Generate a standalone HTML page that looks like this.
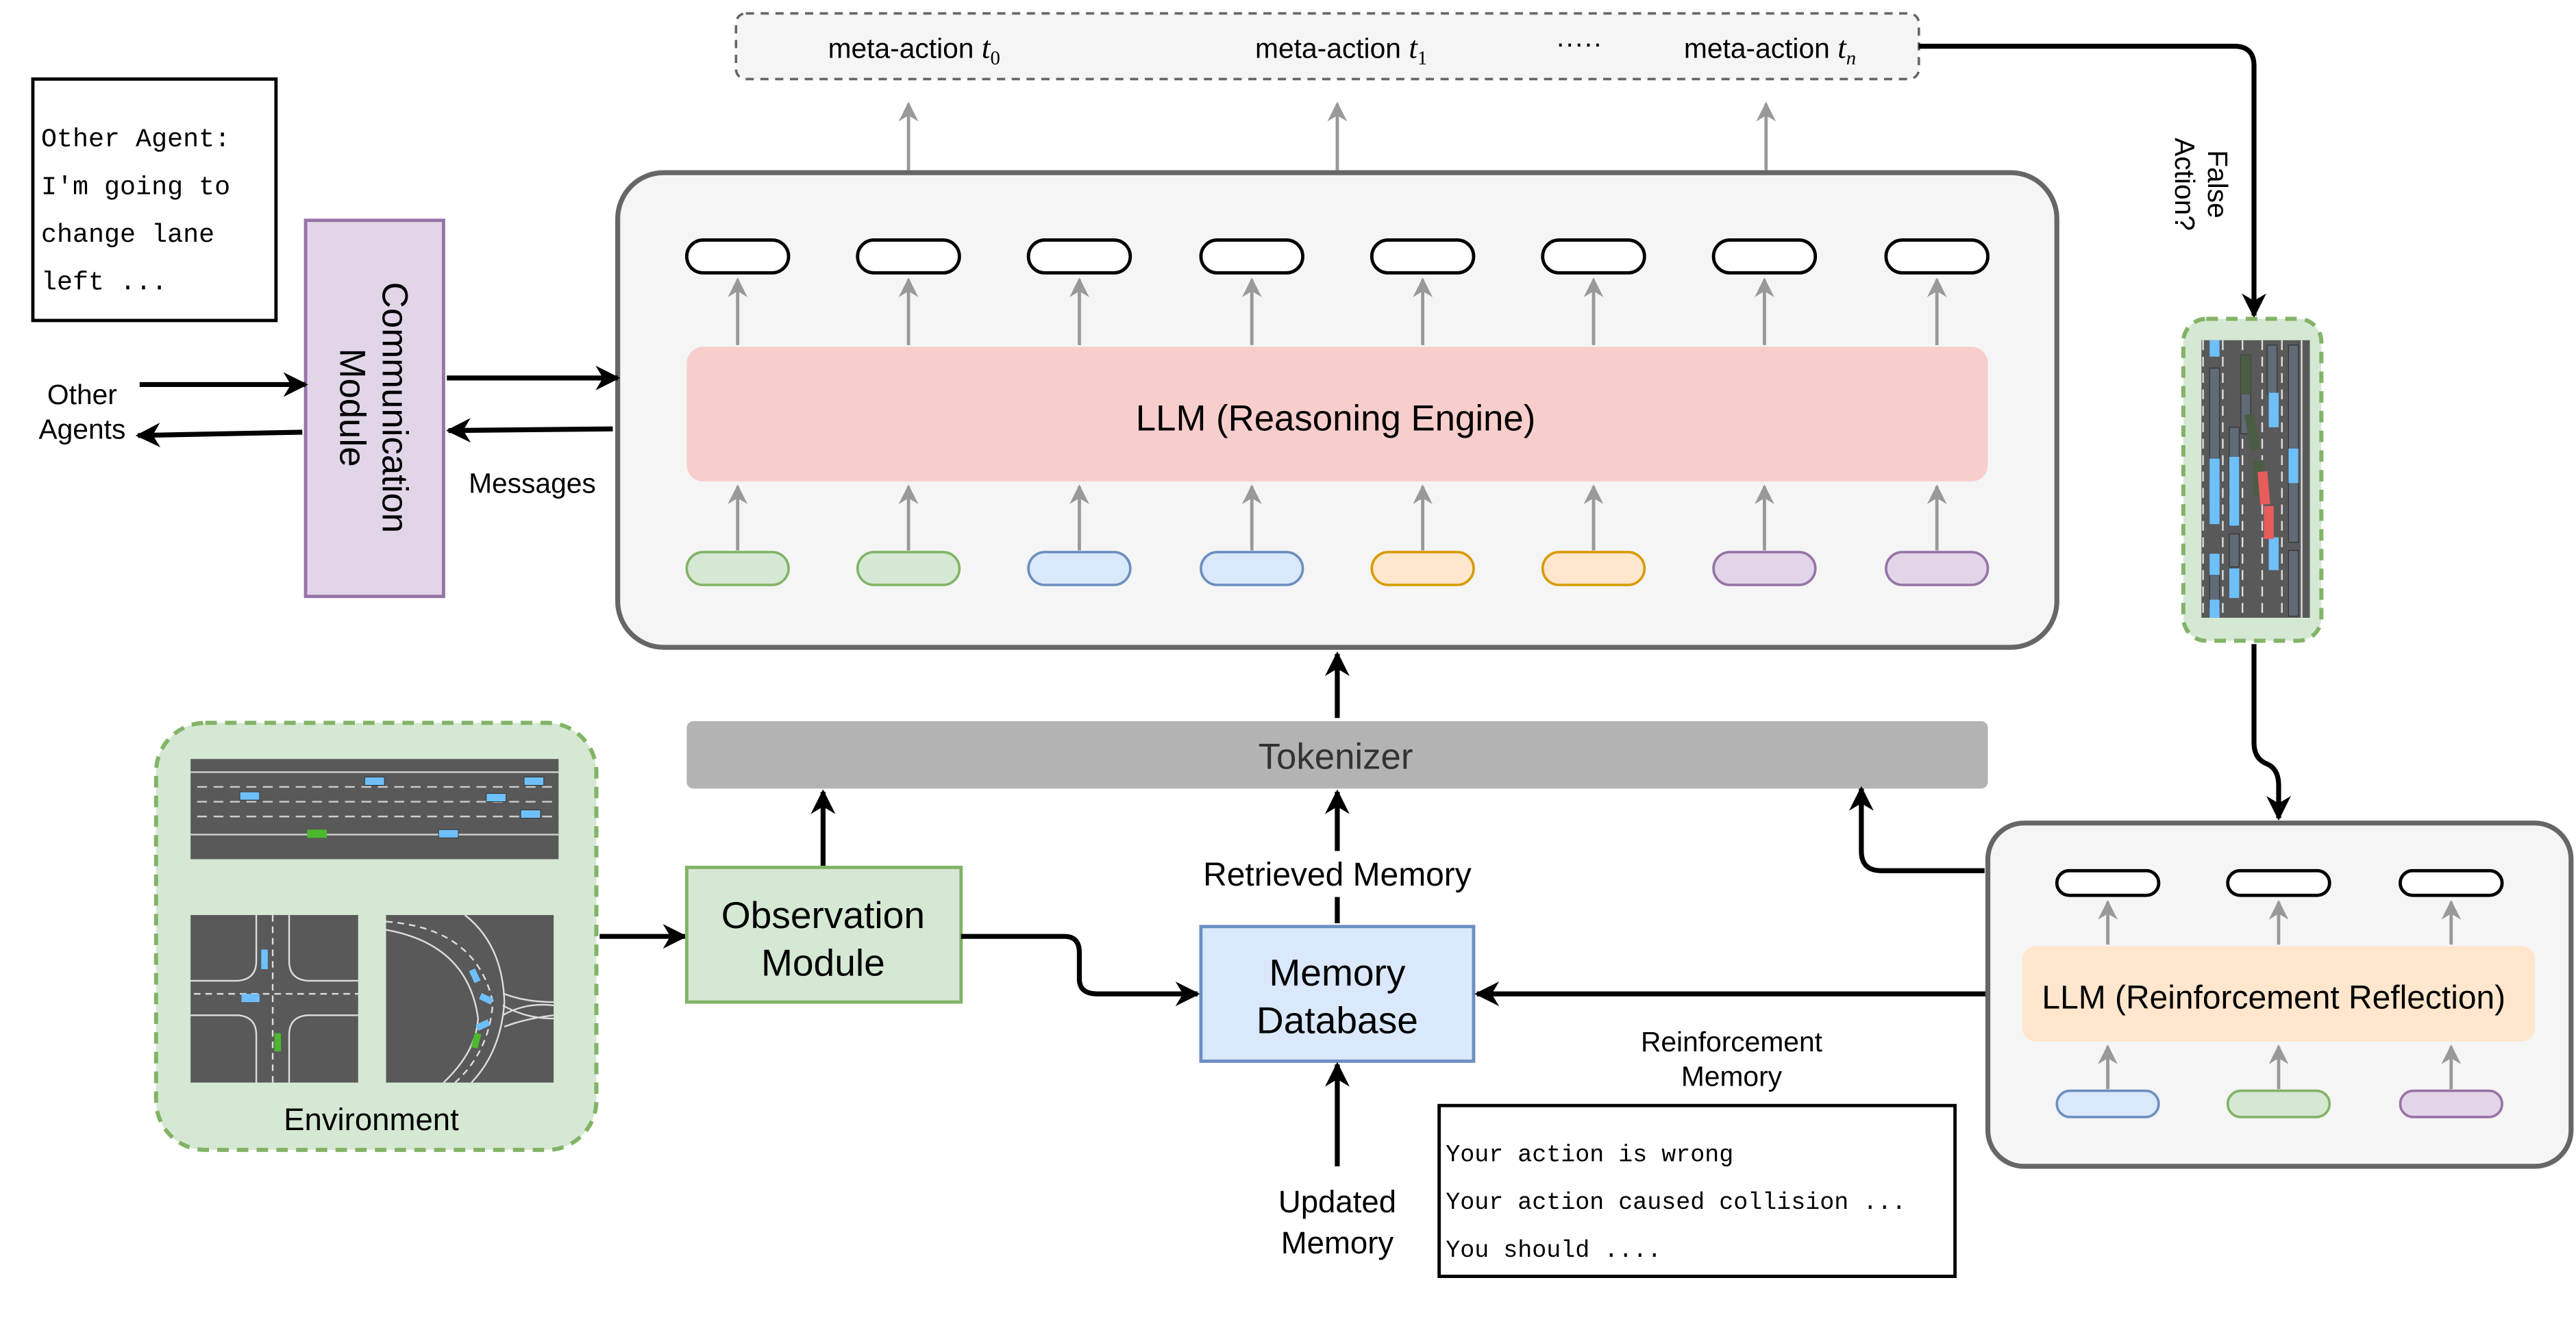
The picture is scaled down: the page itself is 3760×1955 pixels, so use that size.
<!DOCTYPE html>
<html><head><meta charset="utf-8"><style>html,body{margin:0;padding:0;background:#fff}svg{display:block}</style></head><body>
<svg width="3760" height="1955" viewBox="0 0 1568 815" xmlns="http://www.w3.org/2000/svg" font-family="Liberation Sans, Arial, sans-serif">
<defs>
<marker id="ab" viewBox="0 0 10 10" refX="9" refY="5" markerWidth="5" markerHeight="5" orient="auto" markerUnits="strokeWidth"><path d="M0,0 L10,5 L0,10 L3,5 Z" fill="#000"/></marker>
<marker id="ag" viewBox="0 0 10 10" refX="9" refY="5" markerWidth="6" markerHeight="6" orient="auto" markerUnits="strokeWidth"><path d="M0,0 L10,5 L0,10 L3,5 Z" fill="#999"/></marker>
</defs>
<rect width="1568" height="815" fill="#fff"/>

<rect x="448" y="8" width="720" height="40" rx="6" fill="#f5f5f5" stroke="#666" stroke-width="1.5" stroke-dasharray="5,4"/>
<g font-size="17" fill="#000">
<text x="504" y="35">meta-action <tspan font-family="Liberation Serif" font-style="italic" font-size="19">t</tspan><tspan font-family="Liberation Serif" font-size="12" dy="4">0</tspan></text>
<text x="764" y="35">meta-action <tspan font-family="Liberation Serif" font-style="italic" font-size="19">t</tspan><tspan font-family="Liberation Serif" font-size="12" dy="4">1</tspan></text>
<text x="947" y="32">·····</text>
<text x="1025" y="35">meta-action <tspan font-family="Liberation Serif" font-style="italic" font-size="19">t</tspan><tspan font-family="Liberation Serif" font-style="italic" font-size="12" dy="4">n</tspan></text>
</g>
<g stroke="#999" stroke-width="2" marker-end="url(#ag)">
<line x1="553" y1="104" x2="553" y2="63"/><line x1="814" y1="104" x2="814" y2="63"/><line x1="1075" y1="104" x2="1075" y2="63"/>
</g>

<rect x="376" y="105" width="876" height="289" rx="28" fill="#f5f5f5" stroke="#666" stroke-width="3"/>
<g stroke="#999" stroke-width="2" marker-end="url(#ag)">
<line x1="449" y1="210" x2="449" y2="170"/><line x1="553" y1="210" x2="553" y2="170"/><line x1="657" y1="210" x2="657" y2="170"/><line x1="762" y1="210" x2="762" y2="170"/><line x1="866" y1="210" x2="866" y2="170"/><line x1="970" y1="210" x2="970" y2="170"/><line x1="1074" y1="210" x2="1074" y2="170"/><line x1="1179" y1="210" x2="1179" y2="170"/>
<line x1="449" y1="335" x2="449" y2="296"/><line x1="553" y1="335" x2="553" y2="296"/><line x1="657" y1="335" x2="657" y2="296"/><line x1="762" y1="335" x2="762" y2="296"/><line x1="866" y1="335" x2="866" y2="296"/><line x1="970" y1="335" x2="970" y2="296"/><line x1="1074" y1="335" x2="1074" y2="296"/><line x1="1179" y1="335" x2="1179" y2="296"/>
</g>
<g fill="#fff" stroke="#000" stroke-width="2">
<rect x="418" y="146" width="62" height="20" rx="10"/><rect x="522" y="146" width="62" height="20" rx="10"/><rect x="626" y="146" width="62" height="20" rx="10"/><rect x="731" y="146" width="62" height="20" rx="10"/><rect x="835" y="146" width="62" height="20" rx="10"/><rect x="939" y="146" width="62" height="20" rx="10"/><rect x="1043" y="146" width="62" height="20" rx="10"/><rect x="1148" y="146" width="62" height="20" rx="10"/>
</g>
<rect x="418" y="211" width="792" height="82" rx="10" fill="#f8cecc"/>
<text x="813" y="262" font-size="22" text-anchor="middle">LLM (Reasoning Engine)</text>
<g stroke-width="1.5">
<rect x="418" y="336" width="62" height="20" rx="10" fill="#d5e8d4" stroke="#82b366"/><rect x="522" y="336" width="62" height="20" rx="10" fill="#d5e8d4" stroke="#82b366"/>
<rect x="626" y="336" width="62" height="20" rx="10" fill="#dae8fc" stroke="#6c8ebf"/><rect x="731" y="336" width="62" height="20" rx="10" fill="#dae8fc" stroke="#6c8ebf"/>
<rect x="835" y="336" width="62" height="20" rx="10" fill="#ffe6cc" stroke="#d79b00"/><rect x="939" y="336" width="62" height="20" rx="10" fill="#ffe6cc" stroke="#d79b00"/>
<rect x="1043" y="336" width="62" height="20" rx="10" fill="#e1d5e7" stroke="#9673a6"/><rect x="1148" y="336" width="62" height="20" rx="10" fill="#e1d5e7" stroke="#9673a6"/>
</g>

<rect x="418" y="439" width="792" height="41" rx="4" fill="#b3b3b3"/>
<text x="813" y="468" font-size="22" text-anchor="middle" fill="#333">Tokenizer</text>

<rect x="20" y="48" width="148" height="147" fill="#fff" stroke="#000" stroke-width="2"/>
<g font-family="Liberation Mono, monospace" font-size="16">
<text x="25" y="89">Other Agent:</text><text x="25" y="118">I'm going to</text><text x="25" y="147">change lane</text><text x="25" y="176">left ...</text>
</g>

<rect x="186" y="134" width="84" height="229" fill="#e1d5e7" stroke="#9673a6" stroke-width="2"/>
<g transform="translate(228,248) rotate(90)" font-size="22" text-anchor="middle">
<text x="0" y="-5">Communication</text><text x="0" y="21">Module</text>
</g>
<text x="50" y="246" font-size="17" text-anchor="middle">Other</text>
<text x="50" y="267" font-size="17" text-anchor="middle">Agents</text>
<g stroke="#000" stroke-width="3" fill="none" marker-end="url(#ab)">
<line x1="85" y1="234" x2="186" y2="234"/>
<line x1="184" y1="263" x2="84" y2="265"/>
<line x1="272" y1="230" x2="376" y2="230"/>
<line x1="373" y1="261" x2="273" y2="262"/>
</g>
<text x="324" y="300" font-size="17" text-anchor="middle">Messages</text>

<rect x="95" y="440" width="268" height="260" rx="30" fill="#d5e8d4" stroke="#82b366" stroke-width="2.5" stroke-dasharray="7,5"/>
<rect x="116" y="462" width="224" height="61" fill="#595959"/>
<g stroke="#ccc" stroke-width="1">
<line x1="116" y1="470" x2="340" y2="470"/><line x1="116" y1="508" x2="340" y2="508"/>
<line x1="120" y1="479" x2="340" y2="479" stroke-dasharray="6,4"/><line x1="120" y1="488" x2="340" y2="488" stroke-dasharray="6,4"/><line x1="120" y1="497" x2="340" y2="497" stroke-dasharray="6,4"/>
</g>
<g fill="#6ec0fb" stroke="#333" stroke-width=".4">
<rect x="222" y="473" width="12" height="5"/><rect x="146" y="482" width="12" height="5"/><rect x="319" y="473" width="12" height="5"/><rect x="296" y="483" width="12" height="5"/><rect x="317" y="493" width="12" height="5"/><rect x="267" y="505" width="12" height="5"/>
</g>
<rect x="187" y="505" width="12" height="5" fill="#4cb82d"/>
<rect x="116" y="557" width="102" height="102" fill="#595959"/>
<g stroke="#ddd" stroke-width="1" fill="none">
<path d="M156,557 V585 Q156,596 145,597 H116"/><path d="M176,557 V585 Q176,596 187,597 H218"/>
<path d="M116,618 H145 Q156,619 156,630 V659"/><path d="M218,618 H187 Q176,619 176,630 V659"/>
<line x1="166" y1="557" x2="166" y2="659" stroke-dasharray="4,3"/><line x1="118" y1="605" x2="218" y2="605" stroke-dasharray="4,3"/>
</g>
<rect x="159" y="578" width="4" height="12" fill="#6ec0fb"/><rect x="147" y="605" width="11" height="5" fill="#6ec0fb"/><rect x="167" y="629" width="4" height="11" fill="#4cb82d"/>
<rect x="235" y="557" width="102" height="102" fill="#595959"/>
<g stroke="#ddd" stroke-width="1" fill="none">
<path d="M235,566 Q285,575 291,620 Q290,640 270,659"/><path d="M283,557 Q306,575 307,610 Q305,640 287,659"/><path d="M235,561 Q290,565 300,610 Q298,640 277,659" stroke-dasharray="4,3"/>
<path d="M307,605 Q320,610 337,610 M307,625 Q320,620 337,618 M306,612 Q320,620 337,620 M306,618 Q320,610 337,612"/>
</g>
<rect x="287" y="590" width="4" height="8" fill="#6ec0fb" transform="rotate(-25 289 594)"/><rect x="292" y="606" width="8" height="4" fill="#6ec0fb" transform="rotate(25 296 608)"/><rect x="290" y="622" width="8" height="4" fill="#6ec0fb" transform="rotate(-25 294 624)"/><rect x="288" y="629" width="4" height="9" fill="#4cb82d" transform="rotate(15 290 633)"/>
<text x="226" y="688" font-size="19" text-anchor="middle">Environment</text>

<line x1="365" y1="570" x2="417" y2="570" stroke="#000" stroke-width="3" marker-end="url(#ab)"/>
<rect x="418" y="528" width="167" height="82" fill="#d5e8d4" stroke="#82b366" stroke-width="2"/>
<text x="501" y="565" font-size="23" text-anchor="middle">Observation</text>
<text x="501" y="594" font-size="23" text-anchor="middle">Module</text>
<line x1="501" y1="527" x2="501" y2="482" stroke="#000" stroke-width="3" marker-end="url(#ab)"/>
<path d="M585,570 H648 Q657,570 657,580 V596 Q657,605 668,605 H729" stroke="#000" stroke-width="3" fill="none" marker-end="url(#ab)"/>

<rect x="731" y="564" width="166" height="82" fill="#dae8fc" stroke="#6c8ebf" stroke-width="2"/>
<text x="814" y="600" font-size="23" text-anchor="middle">Memory</text>
<text x="814" y="629" font-size="23" text-anchor="middle">Database</text>
<line x1="814" y1="562" x2="814" y2="482" stroke="#000" stroke-width="3" marker-end="url(#ab)"/>
<rect x="718" y="518" width="192" height="28" fill="#fff"/>
<text x="814" y="539" font-size="20" text-anchor="middle">Retrieved Memory</text>
<line x1="814" y1="437" x2="814" y2="398" stroke="#000" stroke-width="3" marker-end="url(#ab)"/>
<line x1="814" y1="710" x2="814" y2="648" stroke="#000" stroke-width="3" marker-end="url(#ab)"/>
<text x="814" y="738" font-size="19" text-anchor="middle">Updated</text>
<text x="814" y="763" font-size="19" text-anchor="middle">Memory</text>
<line x1="1210" y1="605" x2="899" y2="605" stroke="#000" stroke-width="3" marker-end="url(#ab)"/>
<text x="1054" y="640" font-size="17" text-anchor="middle">Reinforcement</text>
<text x="1054" y="661" font-size="17" text-anchor="middle">Memory</text>
<rect x="876" y="673" width="314" height="104" fill="#fff" stroke="#000" stroke-width="2"/>
<g font-family="Liberation Mono, monospace" font-size="14.6">
<text x="880" y="707">Your action is wrong</text><text x="880" y="736">Your action caused collision ...</text><text x="880" y="765">You should ....</text>
</g>

<rect x="1210" y="501" width="355" height="209" rx="22" fill="#f5f5f5" stroke="#666" stroke-width="3"/>
<path d="M1208,530 H1145 Q1133,530 1133,518 V480" stroke="#000" stroke-width="3" fill="none" marker-end="url(#ab)"/>
<g stroke="#999" stroke-width="2" marker-end="url(#ag)">
<line x1="1283" y1="575" x2="1283" y2="549"/><line x1="1387" y1="575" x2="1387" y2="549"/><line x1="1492" y1="575" x2="1492" y2="549"/>
<line x1="1283" y1="663" x2="1283" y2="637"/><line x1="1387" y1="663" x2="1387" y2="637"/><line x1="1492" y1="663" x2="1492" y2="637"/>
</g>
<g fill="#fff" stroke="#000" stroke-width="2">
<rect x="1252" y="530" width="62" height="15" rx="7.5"/><rect x="1356" y="530" width="62" height="15" rx="7.5"/><rect x="1461" y="530" width="62" height="15" rx="7.5"/>
</g>
<rect x="1231" y="576" width="312" height="58" rx="8" fill="#ffe6cc"/>
<text x="1384" y="614" font-size="20" text-anchor="middle">LLM (Reinforcement Reflection)</text>
<g stroke-width="1.5">
<rect x="1252" y="664" width="62" height="16" rx="8" fill="#dae8fc" stroke="#6c8ebf"/><rect x="1356" y="664" width="62" height="16" rx="8" fill="#d5e8d4" stroke="#82b366"/><rect x="1461" y="664" width="62" height="16" rx="8" fill="#e1d5e7" stroke="#9673a6"/>
</g>

<path d="M1168,28 H1360 Q1372,28 1372,40 V192" stroke="#000" stroke-width="3" fill="none" marker-end="url(#ab)"/>
<g transform="translate(1340,112) rotate(90)" font-size="17" text-anchor="middle">
<text x="0" y="-4">False</text><text x="0" y="16">Action?</text>
</g>
<rect x="1329" y="194" width="84" height="196" rx="14" fill="#d5e8d4" stroke="#82b366" stroke-width="2.5" stroke-dasharray="7,5"/>
<rect x="1340" y="207" width="66" height="169" fill="#595959"/>
<g stroke="#ddd" stroke-width="1">
<line x1="1341" y1="207" x2="1341" y2="376" stroke-dasharray="6,4"/><line x1="1353" y1="207" x2="1353" y2="376" stroke-dasharray="6,4"/><line x1="1365" y1="207" x2="1365" y2="376" stroke-dasharray="6,4"/><line x1="1377" y1="207" x2="1377" y2="376" stroke-dasharray="6,4"/><line x1="1389" y1="207" x2="1389" y2="376" stroke-dasharray="6,4"/><line x1="1401" y1="207" x2="1401" y2="376"/>
</g>
<g fill="#5f6b76" stroke="#333" stroke-width=".5">
<rect x="1345" y="224" width="6" height="55"/><rect x="1364" y="216" width="6" height="48"/><rect x="1380" y="210" width="6" height="30"/><rect x="1393" y="210" width="6" height="120"/><rect x="1357" y="260" width="6" height="60"/><rect x="1393" y="335" width="6" height="40"/><rect x="1357" y="325" width="6" height="20"/><rect x="1345" y="350" width="6" height="20"/>
</g>
<g fill="#6ec0fb">
<rect x="1345" y="207" width="6" height="10"/><rect x="1381" y="239" width="6" height="21"/><rect x="1393" y="273" width="6" height="21"/><rect x="1345" y="279" width="6" height="40"/><rect x="1357" y="278" width="6" height="42"/><rect x="1345" y="337" width="6" height="13"/><rect x="1357" y="346" width="6" height="18"/><rect x="1381" y="327" width="6" height="20"/><rect x="1345" y="292" width="6" height="18"/><rect x="1345" y="365" width="6" height="11"/>
</g>
<g fill="#4b5c44"><rect x="1364" y="216" width="6" height="24"/><rect x="1368" y="252" width="6" height="22" transform="rotate(-10 1371 263)"/><rect x="1372" y="280" width="6" height="22"/></g>
<g fill="#e85c5c"><rect x="1375" y="287" width="6" height="20" transform="rotate(-5 1378 297)"/><rect x="1378" y="308" width="6" height="20"/></g>
<path d="M1372,392 V452 Q1372,462 1380,465 Q1387,468 1387,478 V498" stroke="#000" stroke-width="3" fill="none" marker-end="url(#ab)"/>
</svg>
</body></html>
